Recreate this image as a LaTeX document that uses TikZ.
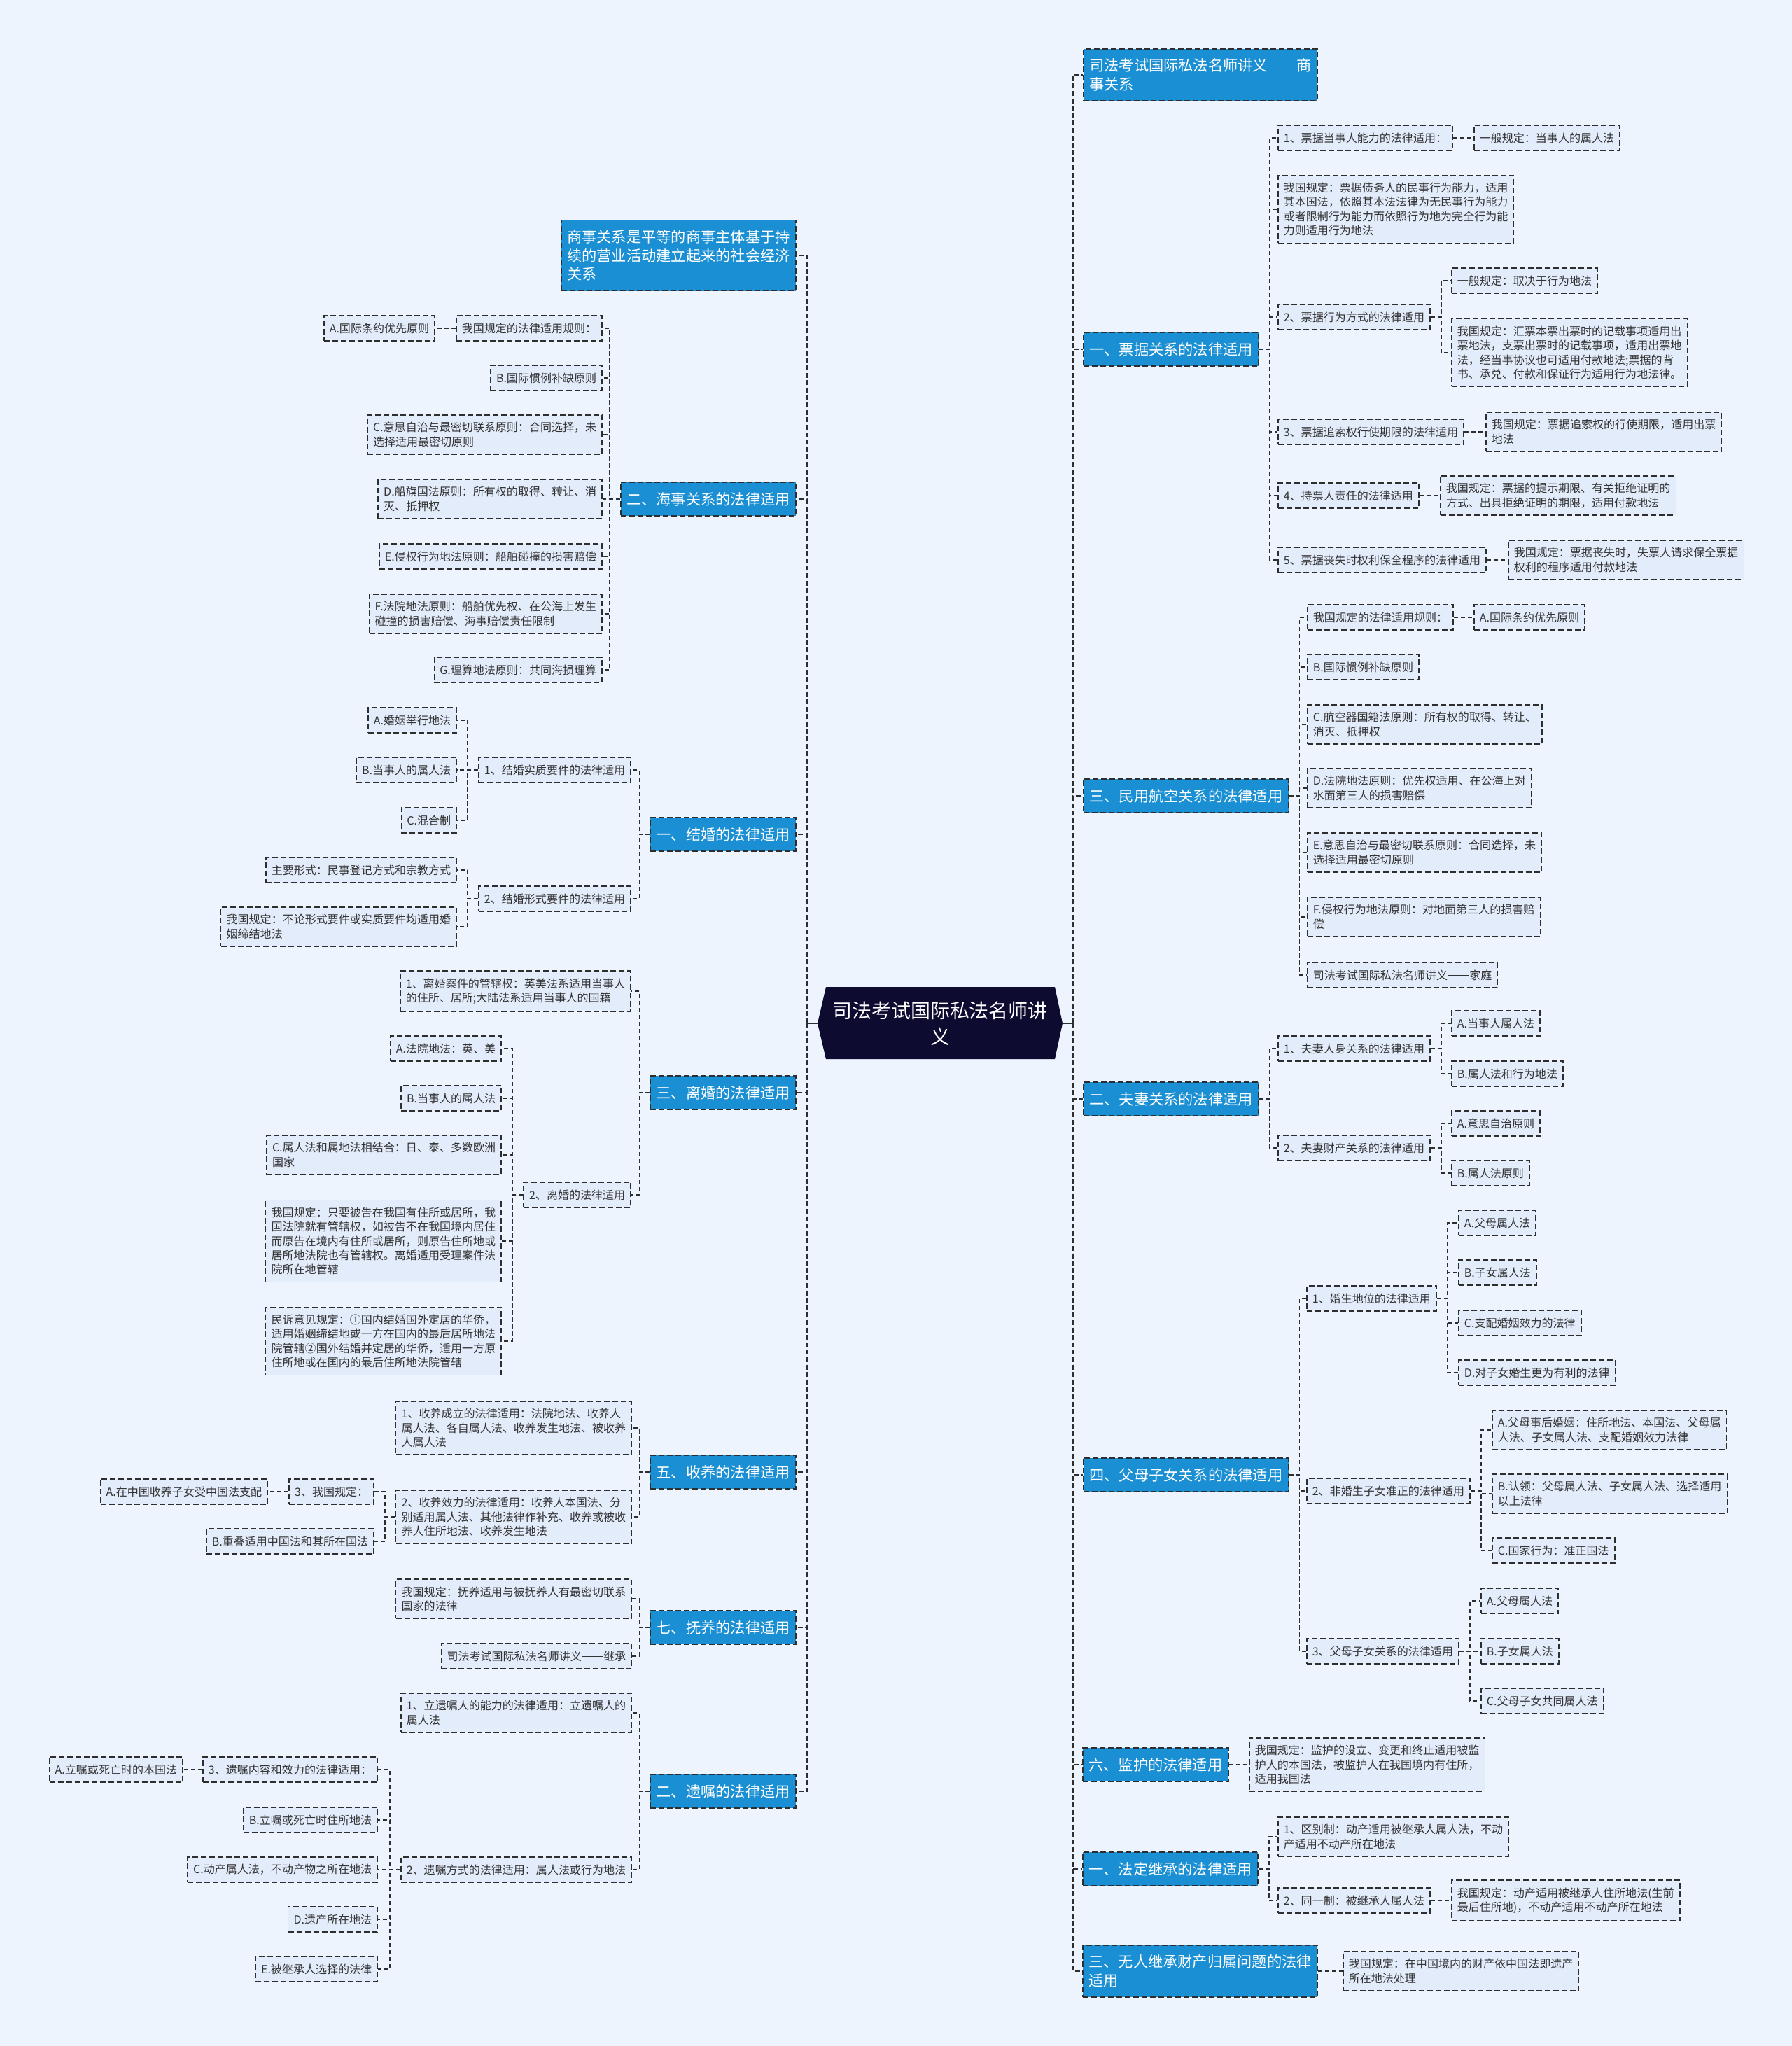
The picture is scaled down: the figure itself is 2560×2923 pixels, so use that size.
\documentclass[tikz,border=0pt]{standalone}
\usepackage{fontspec}
\setmainfont{Noto Sans CJK SC}
\usepackage{xcolor}

\definecolor{bgblue}{HTML}{EEF4FE}
\definecolor{topicblue}{HTML}{1A8FD3}
\definecolor{leafblue}{HTML}{E3ECFB}
\definecolor{rootnavy}{HTML}{0E0B30}
\definecolor{edgegray}{HTML}{2E2E2E}
\definecolor{leaftext}{HTML}{333333}

\newcommand{\longdash}{\rule[0.32em]{1.95em}{0.06em}}

\begin{document}
\begin{tikzpicture}[x=0.25mm, y=-0.25mm,
    root/.style={text=white, align=center, font=\fontsize{19.9}{26.3}\selectfont, inner sep=0pt, minimum width=87.5mm, minimum height=25.75mm},
    topic/.style={draw=edgegray, line width=0.45mm, dash pattern=on 2mm off 1mm, fill=topicblue, text=white, align=left, font=\fontsize{15.1}{19}\selectfont, inner xsep=2.1mm, inner ysep=3.5mm, minimum height=12mm},
    leaf/.style={draw=edgegray, line width=0.4mm, dash pattern=on 2mm off 1mm, fill=leafblue, text=leaftext, align=left, font=\fontsize{11.4}{14.5}\selectfont, inner xsep=2mm, inner ysep=2.6mm, minimum height=9.1mm},
    stem/.style={draw=edgegray, line width=0.5mm},
    trunk/.style={draw=edgegray, line width=0.5mm, dash pattern=on 1.75mm off 0.9mm},
    twig/.style={draw=edgegray, line width=0.35mm, dash pattern=on 1.5mm off 1mm},
]
    \useasboundingbox (0,0) rectangle (2560,2923);
    \fill[bgblue] (0,0) rectangle (2560,2923);

    % 中心主题
    \fill[rootnavy] (1180,1410) -- (1507,1410) -- (1518,1462) -- (1507,1513) -- (1180,1513) -- (1168,1462) -- cycle;
    \node[root] (root) at (1343,1462) {司法考试国际私法名师讲\\义};
    \coordinate (ls) at (1153,1462);
    \coordinate (rs) at (1533,1462);
    \draw[stem] (root.west) -- (ls);
    \draw[stem] (root.east) -- (rs);

    % 左侧：商事关系
    \node[topic, anchor=east] (L1) at (1138,365) {商事关系是平等的商事主体基于持\\续的营业活动建立起来的社会经济\\关系};

    % 左侧：海事关系
    \node[topic, anchor=east] (L2) at (1138,713) {二、海事关系的法律适用};
    \node[leaf, anchor=east] (L2a) at (861,469) {我国规定的法律适用规则：};
    \node[leaf, anchor=east] (L2a1) at (622,469) {A.国际条约优先原则};
    \node[leaf, anchor=east] (L2b) at (861,540) {B.国际惯例补缺原则};
    \node[leaf, anchor=east] (L2c) at (861,621) {C.意思自治与最密切联系原则：合同选择，未\\选择适用最密切原则};
    \node[leaf, anchor=east] (L2d) at (861,713) {D.船旗国法原则：所有权的取得、转让、消\\灭、抵押权};
    \node[leaf, anchor=east] (L2e) at (861,795) {E.侵权行为地法原则：船舶碰撞的损害赔偿};
    \node[leaf, anchor=east] (L2f) at (861,877) {F.法院地法原则：船舶优先权、在公海上发生\\碰撞的损害赔偿、海事赔偿责任限制};
    \node[leaf, anchor=east] (L2g) at (861,957) {G.理算地法原则：共同海损理算};
    \foreach \c in {L2a,L2b,L2c,L2d,L2e,L2f,L2g}
        \draw[twig] (L2.west) -- ++(-15,0) |- (\c.east);
    \draw[twig] (L2a.west) -- (L2a1.east);

    % 左侧：结婚
    \node[topic, anchor=east] (L3) at (1138,1192) {一、结婚的法律适用};
    \node[leaf, anchor=east] (L3a) at (902,1100) {1、结婚实质要件的法律适用};
    \node[leaf, anchor=east] (L3a1) at (653,1029) {A.婚姻举行地法};
    \node[leaf, anchor=east] (L3a2) at (653,1100) {B.当事人的属人法};
    \node[leaf, anchor=east] (L3a3) at (653,1172) {C.混合制};
    \node[leaf, anchor=east] (L3b) at (902,1284) {2、结婚形式要件的法律适用};
    \node[leaf, anchor=east] (L3b1) at (653,1243) {主要形式：民事登记方式和宗教方式};
    \node[leaf, anchor=east] (L3b2) at (653,1324) {我国规定：不论形式要件或实质要件均适用婚\\姻缔结地法};
    \foreach \c in {L3a,L3b}
        \draw[twig] (L3.west) -- ++(-15,0) |- (\c.east);
    \foreach \c in {L3a1,L3a2,L3a3}
        \draw[twig] (L3a.west) -- ++(-15,0) |- (\c.east);
    \foreach \c in {L3b1,L3b2}
        \draw[twig] (L3b.west) -- ++(-15,0) |- (\c.east);

    % 左侧：离婚
    \node[topic, anchor=east] (L4) at (1138,1561) {三、离婚的法律适用};
    \node[leaf, anchor=east] (L4a) at (902,1416) {1、离婚案件的管辖权：英美法系适用当事人\\的住所、居所;大陆法系适用当事人的国籍};
    \node[leaf, anchor=east] (L4b) at (902,1707) {2、离婚的法律适用};
    \node[leaf, anchor=east] (L4b1) at (717,1498) {A.法院地法：英、美};
    \node[leaf, anchor=east] (L4b2) at (717,1569) {B.当事人的属人法};
    \node[leaf, anchor=east] (L4b3) at (717,1650) {C.属人法和属地法相结合：日、泰、多数欧洲\\国家};
    \node[leaf, anchor=east] (L4b4) at (717,1773) {我国规定：只要被告在我国有住所或居所，我\\国法院就有管辖权，如被告不在我国境内居住\\而原告在境内有住所或居所，则原告住所地或\\居所地法院也有管辖权。离婚适用受理案件法\\院所在地管辖};
    \node[leaf, anchor=east] (L4b5) at (717,1916) {民诉意见规定：①国内结婚国外定居的华侨，\\适用婚姻缔结地或一方在国内的最后居所地法\\院管辖②国外结婚并定居的华侨，适用一方原\\住所地或在国内的最后住所地法院管辖};
    \foreach \c in {L4a,L4b}
        \draw[twig] (L4.west) -- ++(-15,0) |- (\c.east);
    \foreach \c in {L4b1,L4b2,L4b3,L4b4,L4b5}
        \draw[twig] (L4b.west) -- ++(-15,0) |- (\c.east);

    % 左侧：收养
    \node[topic, anchor=east] (L5) at (1138,2103) {五、收养的法律适用};
    \node[leaf, anchor=east] (L5a) at (903,2040) {1、收养成立的法律适用：法院地法、收养人\\属人法、各自属人法、收养发生地法、被收养\\人属人法};
    \node[leaf, anchor=east] (L5b) at (903,2167) {2、收养效力的法律适用：收养人本国法、分\\别适用属人法、其他法律作补充、收养或被收\\养人住所地法、收养发生地法};
    \node[leaf, anchor=east] (L5b1) at (535,2131) {3、我国规定：};
    \node[leaf, anchor=east] (L5b1a) at (383,2131) {A.在中国收养子女受中国法支配};
    \node[leaf, anchor=east] (L5b2) at (535,2202) {B.重叠适用中国法和其所在国法};
    \foreach \c in {L5a,L5b}
        \draw[twig] (L5.west) -- ++(-15,0) |- (\c.east);
    \foreach \c in {L5b1,L5b2}
        \draw[twig] (L5b.west) -- ++(-15,0) |- (\c.east);
    \draw[twig] (L5b1.west) -- (L5b1a.east);

    % 左侧：抚养
    \node[topic, anchor=east] (L6) at (1138,2325) {七、抚养的法律适用};
    \node[leaf, anchor=east] (L6a) at (903,2284) {我国规定：抚养适用与被抚养人有最密切联系\\国家的法律};
    \node[leaf, anchor=east] (L6b) at (903,2366) {司法考试国际私法名师讲义\longdash 继承};
    \foreach \c in {L6a,L6b}
        \draw[twig] (L6.west) -- ++(-15,0) |- (\c.east);

    % 左侧：遗嘱
    \node[topic, anchor=east] (L7) at (1138,2559) {二、遗嘱的法律适用};
    \node[leaf, anchor=east] (L7a) at (903,2447) {1、立遗嘱人的能力的法律适用：立遗嘱人的\\属人法};
    \node[leaf, anchor=east] (L7b) at (903,2671) {2、遗嘱方式的法律适用：属人法或行为地法};
    \node[leaf, anchor=east] (L7b1) at (540,2528) {3、遗嘱内容和效力的法律适用：};
    \node[leaf, anchor=east] (L7b1a) at (262,2528) {A.立嘱或死亡时的本国法};
    \node[leaf, anchor=east] (L7b2) at (540,2600) {B.立嘱或死亡时住所地法};
    \node[leaf, anchor=east] (L7b3) at (540,2671) {C.动产属人法，不动产物之所在地法};
    \node[leaf, anchor=east] (L7b4) at (540,2742) {D.遗产所在地法};
    \node[leaf, anchor=east] (L7b5) at (540,2813) {E.被继承人选择的法律};
    \foreach \c in {L7a,L7b}
        \draw[twig] (L7.west) -- ++(-15,0) |- (\c.east);
    \foreach \c in {L7b1,L7b2,L7b3,L7b4,L7b5}
        \draw[twig] (L7b.west) -- ++(-15,0) |- (\c.east);
    \draw[twig] (L7b1.west) -- (L7b1a.east);

    % 右侧：讲义——商事关系
    \node[topic, anchor=west] (R1) at (1547,107) {司法考试国际私法名师讲义\longdash 商\\事关系};

    % 右侧：票据关系
    \node[topic, anchor=west] (R2) at (1547,499) {一、票据关系的法律适用};
    \node[leaf, anchor=west] (R2a) at (1825,197) {1、票据当事人能力的法律适用：};
    \node[leaf, anchor=west] (R2a1) at (2105,197) {一般规定：当事人的属人法};
    \node[leaf, anchor=west] (R2b) at (1825,299) {我国规定：票据债务人的民事行为能力，适用\\其本国法，依照其本法法律为无民事行为能力\\或者限制行为能力而依照行为地为完全行为能\\力则适用行为地法};
    \node[leaf, anchor=west] (R2c) at (1825,453) {2、票据行为方式的法律适用};
    \node[leaf, anchor=west] (R2c1) at (2073,401) {一般规定：取决于行为地法};
    \node[leaf, anchor=west] (R2c2) at (2073,504) {我国规定：汇票本票出票时的记载事项适用出\\票地法，支票出票时的记载事项，适用出票地\\法，经当事协议也可适用付款地法;票据的背\\书、承兑、付款和保证行为适用行为地法律。};
    \node[leaf, anchor=west] (R2d) at (1825,617) {3、票据追索权行使期限的法律适用};
    \node[leaf, anchor=west] (R2d1) at (2122,617) {我国规定：票据追索权的行使期限，适用出票\\地法};
    \node[leaf, anchor=west] (R2e) at (1825,708) {4、持票人责任的法律适用};
    \node[leaf, anchor=west] (R2e1) at (2057,708) {我国规定：票据的提示期限、有关拒绝证明的\\方式、出具拒绝证明的期限，适用付款地法};
    \node[leaf, anchor=west] (R2f) at (1825,800) {5、票据丧失时权利保全程序的法律适用};
    \node[leaf, anchor=west] (R2f1) at (2154,800) {我国规定：票据丧失时，失票人请求保全票据\\权利的程序适用付款地法};
    \foreach \c in {R2a,R2b,R2c,R2d,R2e,R2f}
        \draw[twig] (R2.east) -- ++(15,0) |- (\c.west);
    \foreach \c in {R2c1,R2c2}
        \draw[twig] (R2c.east) -- ++(15,0) |- (\c.west);
    \draw[twig] (R2a.east) -- (R2a1.west);
    \draw[twig] (R2d.east) -- (R2d1.west);
    \draw[twig] (R2e.east) -- (R2e1.west);
    \draw[twig] (R2f.east) -- (R2f1.west);

    % 右侧：民用航空
    \node[topic, anchor=west] (R3) at (1547,1137) {三、民用航空关系的法律适用};
    \node[leaf, anchor=west] (R3a) at (1867,882) {我国规定的法律适用规则：};
    \node[leaf, anchor=west] (R3a1) at (2105,882) {A.国际条约优先原则};
    \node[leaf, anchor=west] (R3b) at (1867,953) {B.国际惯例补缺原则};
    \node[leaf, anchor=west] (R3c) at (1867,1035) {C.航空器国籍法原则：所有权的取得、转让、\\消灭、抵押权};
    \node[leaf, anchor=west] (R3d) at (1867,1126) {D.法院地法原则：优先权适用、在公海上对\\水面第三人的损害赔偿};
    \node[leaf, anchor=west] (R3e) at (1867,1218) {E.意思自治与最密切联系原则：合同选择，未\\选择适用最密切原则};
    \node[leaf, anchor=west] (R3f) at (1867,1310) {F.侵权行为地法原则：对地面第三人的损害赔\\偿};
    \node[leaf, anchor=west] (R3g) at (1867,1393) {司法考试国际私法名师讲义\longdash 家庭};
    \foreach \c in {R3a,R3b,R3c,R3d,R3e,R3f,R3g}
        \draw[twig] (R3.east) -- ++(15,0) |- (\c.west);
    \draw[twig] (R3a.east) -- (R3a1.west);

    % 右侧：夫妻关系
    \node[topic, anchor=west] (R4) at (1547,1570) {二、夫妻关系的法律适用};
    \node[leaf, anchor=west] (R4a) at (1825,1498) {1、夫妻人身关系的法律适用};
    \node[leaf, anchor=west] (R4a1) at (2073,1462) {A.当事人属人法};
    \node[leaf, anchor=west] (R4a2) at (2073,1534) {B.属人法和行为地法};
    \node[leaf, anchor=west] (R4b) at (1825,1640) {2、夫妻财产关系的法律适用};
    \node[leaf, anchor=west] (R4b1) at (2073,1605) {A.意思自治原则};
    \node[leaf, anchor=west] (R4b2) at (2073,1676) {B.属人法原则};
    \foreach \c in {R4a,R4b}
        \draw[twig] (R4.east) -- ++(15,0) |- (\c.west);
    \foreach \c in {R4a1,R4a2}
        \draw[twig] (R4a.east) -- ++(15,0) |- (\c.west);
    \foreach \c in {R4b1,R4b2}
        \draw[twig] (R4b.east) -- ++(15,0) |- (\c.west);

    % 右侧：父母子女关系
    \node[topic, anchor=west] (R5) at (1547,2107) {四、父母子女关系的法律适用};
    \node[leaf, anchor=west] (R5a) at (1866,1855) {1、婚生地位的法律适用};
    \node[leaf, anchor=west] (R5a1) at (2083,1747) {A.父母属人法};
    \node[leaf, anchor=west] (R5a2) at (2083,1818) {B.子女属人法};
    \node[leaf, anchor=west] (R5a3) at (2083,1890) {C.支配婚姻效力的法律};
    \node[leaf, anchor=west] (R5a4) at (2083,1961) {D.对子女婚生更为有利的法律};
    \node[leaf, anchor=west] (R5b) at (1866,2130) {2、非婚生子女准正的法律适用};
    \node[leaf, anchor=west] (R5b1) at (2131,2043) {A.父母事后婚姻：住所地法、本国法、父母属\\人法、子女属人法、支配婚姻效力法律};
    \node[leaf, anchor=west] (R5b2) at (2131,2134) {B.认领：父母属人法、子女属人法、选择适用\\以上法律};
    \node[leaf, anchor=west] (R5b3) at (2131,2215) {C.国家行为：准正国法};
    \node[leaf, anchor=west] (R5c) at (1866,2359) {3、父母子女关系的法律适用};
    \node[leaf, anchor=west] (R5c1) at (2115,2287) {A.父母属人法};
    \node[leaf, anchor=west] (R5c2) at (2115,2359) {B.子女属人法};
    \node[leaf, anchor=west] (R5c3) at (2115,2430) {C.父母子女共同属人法};
    \foreach \c in {R5a,R5b,R5c}
        \draw[twig] (R5.east) -- ++(15,0) |- (\c.west);
    \foreach \c in {R5a1,R5a2,R5a3,R5a4}
        \draw[twig] (R5a.east) -- ++(15,0) |- (\c.west);
    \foreach \c in {R5b1,R5b2,R5b3}
        \draw[twig] (R5b.east) -- ++(15,0) |- (\c.west);
    \foreach \c in {R5c1,R5c2,R5c3}
        \draw[twig] (R5c.east) -- ++(15,0) |- (\c.west);

    % 右侧：监护
    \node[topic, anchor=west] (R6) at (1546,2521) {六、监护的法律适用};
    \node[leaf, anchor=west] (R6a) at (1784,2521) {我国规定：监护的设立、变更和终止适用被监\\护人的本国法，被监护人在我国境内有住所，\\适用我国法};
    \draw[twig] (R6.east) -- (R6a.west);

    % 右侧：法定继承
    \node[topic, anchor=west] (R7) at (1546,2670) {一、法定继承的法律适用};
    \node[leaf, anchor=west] (R7a) at (1825,2624) {1、区别制：动产适用被继承人属人法，不动\\产适用不动产所在地法};
    \node[leaf, anchor=west] (R7b) at (1825,2715) {2、同一制：被继承人属人法};
    \node[leaf, anchor=west] (R7b1) at (2073,2715) {我国规定：动产适用被继承人住所地法(生前\\最后住所地)，不动产适用不动产所在地法};
    \foreach \c in {R7a,R7b}
        \draw[twig] (R7.east) -- ++(15,0) |- (\c.west);
    \draw[twig] (R7b.east) -- (R7b1.west);

    % 右侧：无人继承财产
    \node[topic, anchor=west] (R8) at (1546,2816) {三、无人继承财产归属问题的法律\\适用};
    \node[leaf, anchor=west] (R8a) at (1918,2816) {我国规定：在中国境内的财产依中国法即遗产\\所在地法处理};
    \draw[twig] (R8.east) -- (R8a.west);

    % 主干
    \foreach \m in {L1,L2,L3,L4,L5,L6,L7}
        \draw[trunk] (ls) |- (\m.east);
    \foreach \m in {R1,R2,R3,R4,R5,R6,R7,R8}
        \draw[trunk] (rs) |- (\m.west);
\end{tikzpicture}
\end{document}
